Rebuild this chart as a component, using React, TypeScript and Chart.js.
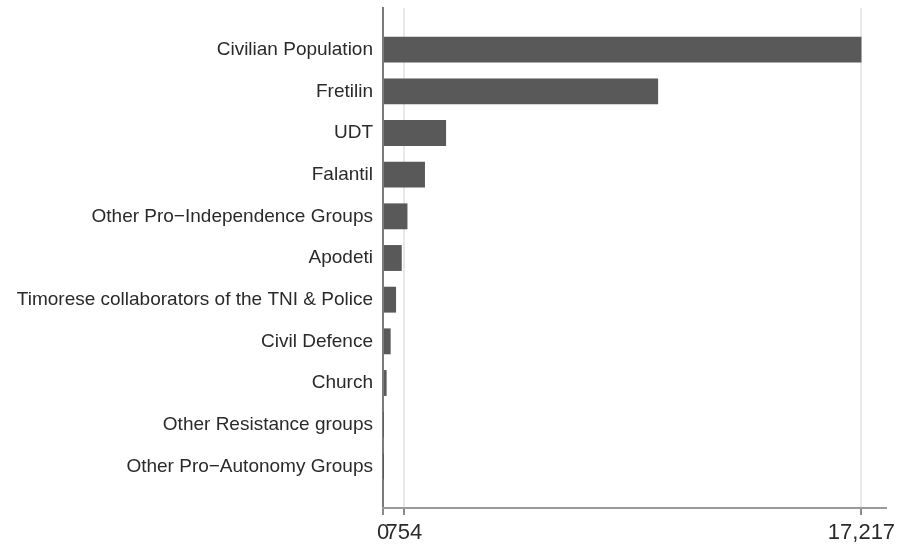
import React, { useEffect, useRef } from "react";
import { Chart, registerables } from "chart.js";

Chart.register(...registerables);

const categories: string[] = [
  "Civilian Population",
  "Fretilin",
  "UDT",
  "Falantil",
  "Other Pro\u2212Independence Groups",
  "Apodeti",
  "Timorese collaborators of the TNI & Police",
  "Civil Defence",
  "Church",
  "Other Resistance groups",
  "Other Pro\u2212Autonomy Groups",
];

const deaths: number[] = [17217, 9900, 2270, 1510, 880, 675, 470, 275, 130, 8, 3];

const xTickValues: number[] = [0, 754, 17217];

export default function App() {
  const canvasRef = useRef<HTMLCanvasElement | null>(null);

  useEffect(() => {
    const canvas = canvasRef.current;
    if (!canvas) return;
    const chart = new Chart(canvas, {
      type: "bar",
      data: {
        datasets: [
          {
            data: categories.map((_, i) => ({ x: deaths[i], y: i })),
            backgroundColor: "#595959",
            borderWidth: 0,
            barPercentage: 0.9,
            categoryPercentage: 0.69,
          },
        ],
      },
      options: {
        indexAxis: "y",
        animation: false,
        responsive: true,
        maintainAspectRatio: false,
        layout: { padding: { top: 8, right: 15, left: 0, bottom: 0 } },
        plugins: {
          legend: { display: false },
          tooltip: { enabled: false },
        },
        scales: {
          y: {
            type: "linear",
            reverse: true,
            offset: false,
            min: -1,
            max: 11,
            afterBuildTicks: (scale: any) => {
              scale.ticks = categories.map((_, i) => ({ value: i }));
            },
            afterFit: (scale: any) => {
              scale.width = 383;
              scale.paddingTop = 0;
              scale.paddingBottom = 0;
            },
            grid: { display: false, drawTicks: false, offset: false },
            border: { display: true, color: "#7a7a7a", width: 2 },
            ticks: {
              autoSkip: false,
              padding: 10,
              color: "#2a2a2a",
              font: { family: "'Liberation Sans', Arial, sans-serif", size: 19 },
              callback: (v: any) => categories[v as number] ?? "",
            },
          },
          x: {
            type: "linear",
            min: 0,
            max: 18100,
            afterBuildTicks: (scale: any) => {
              scale.ticks = xTickValues.map((v) => ({ value: v }));
            },
            afterFit: (scale: any) => {
              scale.height = 40;
              scale.paddingLeft = 0;
              scale.paddingRight = 0;
            },
            grid: {
              display: true,
              drawTicks: true,
              tickLength: 7,
              lineWidth: 2,
              color: (ctx: any) => (ctx.tick && ctx.tick.value === 0 ? "rgba(0,0,0,0)" : "#e8e8e8"),
              tickColor: "#8a8a8a",
            },
            border: { display: true, color: "#9a9a9a", width: 2 },
            ticks: {
              autoSkip: false,
              maxRotation: 0,
              padding: 5,
              color: "#2a2a2a",
              font: { family: "'Liberation Sans', Arial, sans-serif", size: 22 },
              callback: (v: any) => Number(v).toLocaleString("en-US"),
            },
          },
        },
      },
    });
    return () => chart.destroy();
  }, []);

  return (
    <div
      style={{
        position: "fixed",
        left: 0,
        top: 0,
        width: 901,
        height: 548,
        background: "#ffffff",
      }}
    >
      <canvas ref={canvasRef} />
    </div>
  );
}
